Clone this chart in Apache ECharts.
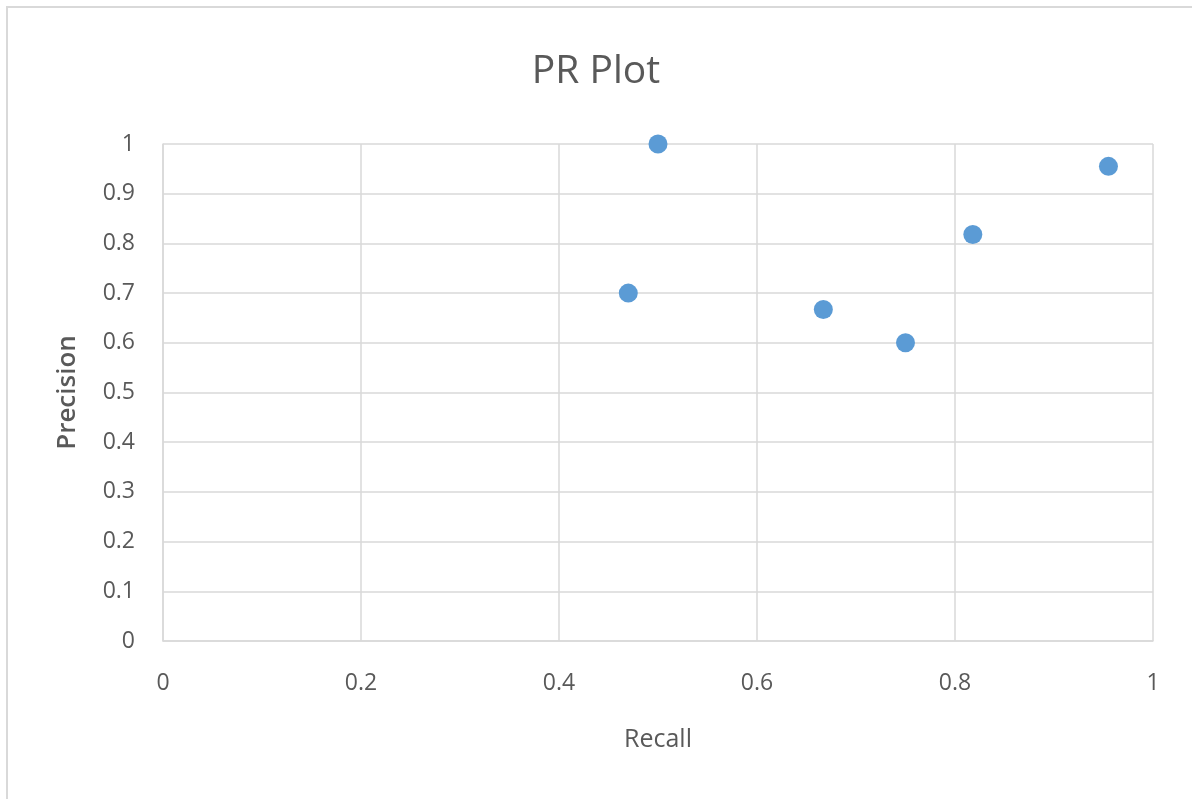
<!DOCTYPE html>
<html>
<head>
<meta charset="utf-8">
<script src="https://cdn.jsdelivr.net/npm/echarts@6/dist/echarts.min.js"></script>
<style>
  html, body { margin: 0; padding: 0; background: #fff; }
  #chart { width: 1192px; height: 799px; }
</style>
</head>
<body>
<div id="chart"></div>
<script>
const recall = [0.5, 0.47, 0.667, 0.75, 0.818, 0.955];
const precision = [1.0, 0.7, 0.667, 0.6, 0.818, 0.955];

const points = recall.map((r, i) => [r, precision[i]]);
const font = "Open Sans";
const textColor = "#595959";

const chart = echarts.init(document.getElementById("chart"));
chart.setOption({
  animation: false,
  title: {
    text: "PR Plot",
    left: "center",
    top: 47,
    textStyle: { fontFamily: font, fontSize: 39, fontWeight: "normal", color: textColor },
  },
  graphic: [
    {
      type: "rect",
      shape: { x: 7, y: 7, width: 1200, height: 820 },
      style: { fill: "none", stroke: "#d9d9d9", lineWidth: 2 },
      silent: true,
    },
  ],
  grid: { left: 163, top: 144, width: 990, height: 497 },
  xAxis: {
    type: "value",
    min: 0,
    max: 1,
    interval: 0.2,
    name: "Recall",
    nameLocation: "middle",
    nameGap: 86,
    nameTextStyle: { fontFamily: font, fontSize: 25, color: textColor },
    axisLine: { show: true, lineStyle: { color: "#d9d9d9", width: 1.5 } },
    axisTick: { show: false },
    axisLabel: { fontFamily: font, fontSize: 23, color: textColor, margin: 31 },
    splitLine: { show: true, lineStyle: { color: "#d9d9d9", width: 1.5 } },
  },
  yAxis: {
    type: "value",
    min: 0,
    max: 1,
    interval: 0.1,
    name: "Precision",
    nameLocation: "middle",
    nameGap: 82,
    nameRotate: 90,
    nameTextStyle: { fontFamily: font, fontSize: 26, fontWeight: 600, color: textColor },
    axisLine: { show: true, lineStyle: { color: "#d9d9d9", width: 1.5 } },
    axisTick: { show: false },
    axisLabel: { fontFamily: font, fontSize: 23, color: textColor, margin: 28 },
    splitLine: { show: true, lineStyle: { color: "#d9d9d9", width: 1.5 } },
  },
  series: [
    {
      type: "scatter",
      data: points,
      symbol: "circle",
      symbolSize: 19,
      itemStyle: { color: "#5b9bd5", opacity: 1 },
    },
  ],
});
</script>
</body>
</html>
